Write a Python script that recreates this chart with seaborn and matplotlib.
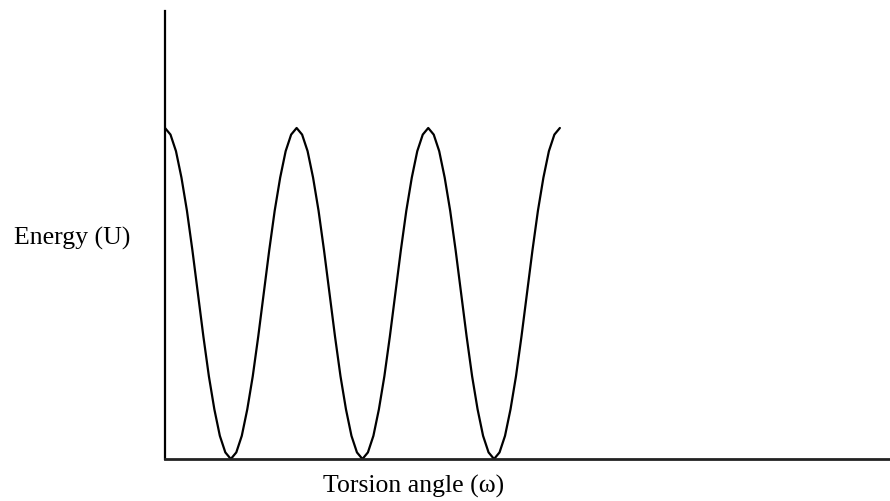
import matplotlib
matplotlib.use("Agg")
import matplotlib.pyplot as plt
import seaborn as sns
import pandas as pd

# torsion angle (degrees), read every 5 degrees along the curve
angles = list(range(0, 361, 5))
# relative energy (peak = 1, minimum = 0)
energy = [
    1.00, 0.98, 0.93, 0.85, 0.75, 0.63, 0.50, 0.37, 0.25, 0.15, 0.07, 0.02,
    0.00, 0.02, 0.07, 0.15, 0.25, 0.37, 0.50, 0.63, 0.75, 0.85, 0.93, 0.98,
    1.00, 0.98, 0.93, 0.85, 0.75, 0.63, 0.50, 0.37, 0.25, 0.15, 0.07, 0.02,
    0.00, 0.02, 0.07, 0.15, 0.25, 0.37, 0.50, 0.63, 0.75, 0.85, 0.93, 0.98,
    1.00, 0.98, 0.93, 0.85, 0.75, 0.63, 0.50, 0.37, 0.25, 0.15, 0.07, 0.02,
    0.00, 0.02, 0.07, 0.15, 0.25, 0.37, 0.50, 0.63, 0.75, 0.85, 0.93, 0.98,
    1.00,
]

sns.set_style("white")
plt.rcParams['font.family'] = ['Liberation Serif', 'DejaVu Serif']
plt.rcParams['axes.labelcolor'] = 'black'

df = pd.DataFrame({'angle': angles, 'U': energy})

fig = plt.figure(figsize=(8.9, 5.01), dpi=100)
ax = fig.add_axes([0.1854, 0.0838, 0.8146, 0.894])

sns.lineplot(data=df, x='angle', y='U', color='black', linewidth=1.6, ax=ax)
ax.lines[0].set_solid_joinstyle('round')

ax.set_xlim(0, 661)
ax.set_ylim(0, 1.353)
ax.set_xticks([])
ax.set_yticks([])
ax.spines['top'].set_visible(False)
ax.spines['right'].set_visible(False)
ax.spines['left'].set_color('black')
ax.spines['bottom'].set_color('#222222')
ax.spines['left'].set_linewidth(1.6)
ax.spines['bottom'].set_linewidth(2)

ax.set_ylabel('Energy (U)', rotation=0, fontsize=18.5, va='center', ha='center',
              color='black')
ax.yaxis.set_label_coords(-0.128, 0.493)
ax.set_xlabel('Torsion angle (\u03c9)', fontsize=18.5, va='center', ha='center',
              color='black')
ax.xaxis.set_label_coords(0.343, -0.062)

fig.savefig('out.png', dpi=100)
